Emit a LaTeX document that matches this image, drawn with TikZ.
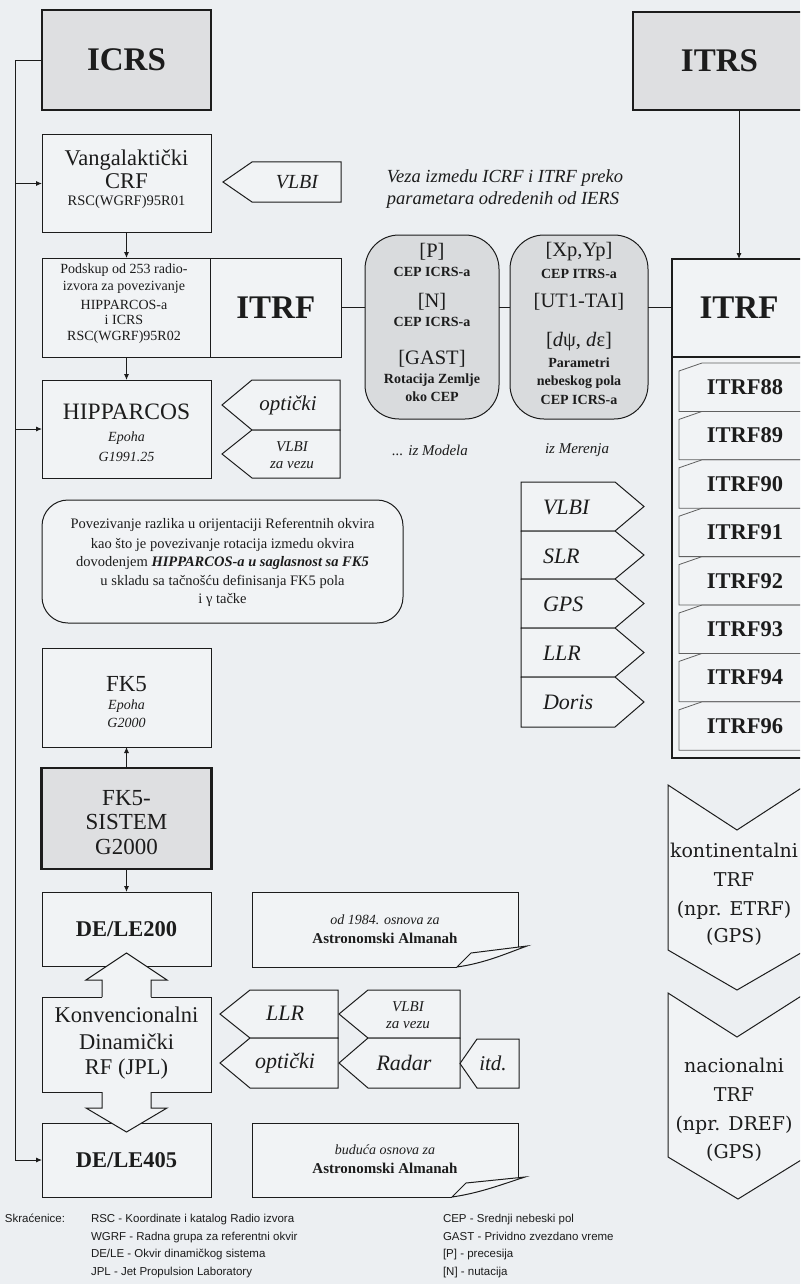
\documentclass[tikz,border=0pt]{standalone}
\usepackage{fontspec}
\setmainfont{Liberation Serif}
\newfontfamily\chevfont{DejaVu Serif}
\newfontfamily\abbrfont{Liberation Sans}
\usetikzlibrary{arrows.meta,calc}
\definecolor{bgc}{RGB}{236,239,242}
\definecolor{boxfill}{RGB}{241,243,245}
\definecolor{grayfill}{RGB}{222,223,225}
\definecolor{roundfill}{RGB}{217,219,221}
\definecolor{ink}{RGB}{28,28,28}
\newcommand{\fsz}[2]{\fontsize{#1}{#2}\selectfont}
\newcommand{\lpent}[5]{\draw[pentstyle] (#2,#3) -- (#1+#5,#3) -- (#1,{(#3+#4)/2}) -- (#1+#5,#4) -- (#2,#4) -- cycle;}
\newcommand{\rpent}[5]{\draw[pentstyle] (#1,#3) -- (#2-#5,#3) -- (#2,{(#3+#4)/2}) -- (#2-#5,#4) -- (#1,#4) -- cycle;}
\begin{document}
\begin{tikzpicture}[x=1pt,y=-1pt,
 every node/.style={text=ink,inner sep=0pt,outer sep=0pt,align=center},
 box/.style={draw=ink,line width=1pt,fill=boxfill},
 heavy/.style={draw=ink,line width=2.2pt,fill=grayfill},
 thinline/.style={draw=ink,line width=0.9pt},
 arr/.style={draw=ink,line width=0.9pt,-{Latex[length=6pt,width=5pt]}},
 link/.style={draw=ink,line width=1.8pt},
 pentstyle/.style={draw=ink,line width=1pt,fill=boxfill},
 roundbox/.style={draw=ink,line width=1pt,fill=roundfill,rounded corners=34pt},
 itemline/.style={draw=ink!70,line width=0.8pt},
 chev/.style={draw=ink,line width=1pt,fill=boxfill},
 docstyle/.style={draw=ink,line width=1pt},
 big/.style={font=\fsz{33}{36}\bfseries},
 mid/.style={font=\fsz{22.5}{26}},
 midb/.style={font=\fsz{22.5}{26}\bfseries},
 lab/.style={font=\fsz{21}{24}\itshape},
 smi/.style={font=\fsz{14}{16}\itshape},
 sm/.style={font=\fsz{14}{16}},
 smb/.style={font=\fsz{14}{16}\bfseries},
 br/.style={font=\fsz{20.5}{24}},
 chevt/.style={font=\fsz{19}{22}\chevfont},
 abbr/.style={font=\fsz{11.5}{13}\abbrfont,anchor=base west},
]
\useasboundingbox (0,0) rectangle (800,1284);
\fill[bgc] (0,0) rectangle (800,1284);
\clip (0,0) rectangle (800,1284);

% ---------------- left column boxes
\node[heavy,big,minimum width=169,minimum height=100] (icrs) at (126.5,60) {ICRS};
\node[box,minimum width=169,minimum height=97] (vang) at (126.5,183.5) {};
\node[mid] (vang1) at (126.5,160) {Vangalaktički};
\node[mid] (vang2) at (126.5,181.5) {CRF};
\node[font=\fsz{14.5}{16}] (vang3) at (126.5,202) {RSC(WGRF)95R01};

\node[box,minimum width=168,minimum height=99] (podskup) at (126.5,307.5) {};
\node[box,big,minimum width=130.5,minimum height=99] (itrf) at (275.75,307.5) {ITRF};
\node[sm] (pod1) at (124,270) {Podskup od 253 radio-};
\node[sm] (pod2) at (124,287) {izvora za povezivanje};
\node[sm] (pod3) at (124,305) {HIPPARCOS-a};
\node[sm] (pod4) at (124,320) {i ICRS};
\node[sm] (pod5) at (124,337) {RSC(WGRF)95R02};

\node[box,minimum width=169,minimum height=98] (hipp) at (126.5,429) {};
\node[font=\fsz{23.5}{26}] (hipp1) at (126.5,412) {HIPPARCOS};
\node[smi] (hipp2) at (126.5,438) {Epoha};
\node[smi] (hipp3) at (126.5,457) {G1991.25};

\node[box,rounded corners=26pt,minimum width=361,minimum height=123] (povez) at (222.5,561.5) {};
\node[font=\fsz{14.5}{16}] (pv1) at (222.5,525) {Povezivanje razlika u orijentaciji Referentnih okvira};
\node[font=\fsz{14.5}{16}] (pv2) at (222.5,545) {kao što je povezivanje rotacija izmedu okvira};
\node[font=\fsz{14.5}{16}] (pv3) at (222.5,563) {dovodenjem \textbf{\textit{HIPPARCOS-a u saglasnost sa FK5}}};
\node[font=\fsz{14.5}{16}] (pv4) at (222.5,582) {u skladu sa tačnošću definisanja FK5 pola};
\node[font=\fsz{14.5}{16}] (pv5) at (222.5,600) {i γ tačke};

\node[box,minimum width=169,minimum height=99] (fk5) at (126.5,697.5) {};
\node[font=\fsz{23}{26}] (fk51) at (126.5,684) {FK5};
\node[smi] (fk52) at (126.5,706) {Epoha};
\node[smi] (fk53) at (126.5,723) {G2000};

\node[heavy,minimum width=170,minimum height=101] (fk5sis) at (126.5,818.5) {};
\node[font=\fsz{23}{26}] (fs1) at (126.5,798) {FK5-};
\node[font=\fsz{23}{26}] (fs2) at (126.5,822) {SISTEM};
\node[font=\fsz{23}{26}] (fs3) at (126.5,847) {G2000};

\node[box,midb,minimum width=169,minimum height=74] (dele200) at (126.5,929) {DE/LE200};
\node[box,minimum width=169,minimum height=95] (konv) at (126.5,1044.5) {};
\node[mid] (kv1) at (126.5,1015) {Konvencionalni};
\node[mid] (kv2) at (126.5,1042) {Dinamički};
\node[mid] (kv3) at (126.5,1069) {RF (JPL)};
\node[box,midb,minimum width=169,minimum height=74] (dele405) at (126.5,1160) {DE/LE405};

% left feed line
\coordinate (Ltop) at (15,60);
\draw[thinline] (icrs.west) -- (Ltop) -- (Ltop |- dele405.west);
\draw[arr] (Ltop |- dele405.west) -- (dele405.west);
\draw[arr] (Ltop |- vang.west) -- (vang.west);
\draw[arr] (Ltop |- hipp.west) -- (hipp.west);

% vertical arrows
\draw[arr] (vang.south) -- (podskup.north);
\draw[arr] (podskup.south) -- (hipp.north);
\draw[arr] (fk5sis.north) -- (fk5.south);
\draw[arr] (fk5sis.south) -- (dele200.north);

% block double arrow
\begin{scope}[shift={(konv.north)}]
 \fill[boxfill] (-24.5,1.2) -- (-24.5,-17) -- (-40.5,-17) -- (0,-44) -- (40.5,-17) -- (24.5,-17) -- (24.5,1.2) -- cycle;
 \draw[docstyle] (-24.5,0) -- (-24.5,-17) -- (-40.5,-17) -- (0,-44) -- (40.5,-17) -- (24.5,-17) -- (24.5,0);
\end{scope}
\begin{scope}[shift={(konv.south)}]
 \fill[boxfill] (-24.5,-1.2) -- (-24.5,16) -- (-40.5,16) -- (0,40) -- (40.5,16) -- (24.5,16) -- (24.5,-1.2) -- cycle;
 \draw[docstyle] (-24.5,0) -- (-24.5,16) -- (-40.5,16) -- (0,40) -- (40.5,16) -- (24.5,16) -- (24.5,0);
\end{scope}

% left pentagons
\lpent{223}{341}{162}{202}{29}
\node[font=\fsz{20}{22}\itshape] (pvlbi) at (297,182) {VLBI};
\lpent{222}{340}{380}{430}{30}
\lpent{222}{340}{430}{478}{30}
\node[lab] (popt) at (288,405) {optički};
\node[font=\fsz{15}{17}\itshape] (pvz1) at (292,447) {VLBI};
\node[font=\fsz{15}{17}\itshape] (pvz2) at (292,465) {za vezu};

\lpent{220}{338}{990}{1038}{30}
\lpent{220}{338}{1038}{1088}{30}
\lpent{339}{460}{990}{1038}{29}
\lpent{339}{460}{1038}{1088}{29}
\lpent{460}{519}{1039}{1088}{17}
\node[font=\fsz{22}{24}\itshape] (qllr) at (285,1013) {LLR};
\node[font=\fsz{22}{24}\itshape] (qopt) at (285,1063) {optički};
\node[font=\fsz{15}{17}\itshape] (qvz1) at (408,1007) {VLBI};
\node[font=\fsz{15}{17}\itshape] (qvz2) at (408,1025) {za vezu};
\node[font=\fsz{22}{24}\itshape] (qrad) at (404,1063) {Radar};
\node[font=\fsz{21}{24}\itshape] (qitd) at (493,1063) {itd.};

% notes with curled corner
\fill[boxfill] (252,892) -- (518,892) -- (518,949) -- (457,967) -- (252,967) -- cycle;
\draw[docstyle] (457,967) -- (252,967) -- (252,892) -- (518,892) -- (518,949);
\draw[docstyle,fill=boxfill] (457,967) .. controls (485,963) and (505,954) .. (527,946) -- (471,953) -- cycle;
\node[draw=none,minimum width=266,minimum height=75] (doc1) at (385,929.5) {};
\node[font=\fsz{14}{16}\itshape] (d1a) at (385,920) {od 1984. osnova za};
\node[font=\fsz{15}{17}\bfseries] (d1b) at (385,938) {Astronomski Almanah};

\fill[boxfill] (252,1123) -- (518,1123) -- (518,1179) -- (452,1197) -- (252,1197) -- cycle;
\draw[docstyle] (452,1197) -- (252,1197) -- (252,1123) -- (518,1123) -- (518,1179);
\draw[docstyle,fill=boxfill] (452,1197) .. controls (480,1193) and (503,1184) .. (525,1177) -- (466,1183) -- cycle;
\node[draw=none,minimum width=266,minimum height=74] (doc2) at (385,1160) {};
\node[font=\fsz{14}{16}\itshape] (d2a) at (385,1150) {buduća osnova za};
\node[font=\fsz{15}{17}\bfseries] (d2b) at (385,1168) {Astronomski Almanah};

% ---------------- middle: title and rounded parameter nodes
\node[font=\fsz{18.5}{22}\itshape] (ttl1) at (505,178) {Veza izmedu ICRF i ITRF preko};
\node[font=\fsz{18.5}{22}\itshape] (ttl2) at (503,200) {parametara odredenih od IERS};

\node[roundbox,minimum width=134,minimum height=184] (r1) at (432,327) {};
\node[roundbox,minimum width=138,minimum height=184] (r2) at (579,327) {};
\node[br] (r1a) at (432,252) {[P]};
\node[smb] (r1b) at (432,272) {CEP ICRS-a};
\node[br] (r1c) at (432,302) {[N]};
\node[smb] (r1d) at (432,322) {CEP ICRS-a};
\node[br] (r1e) at (432,359) {[GAST]};
\node[smb] (r1f) at (432,380) {Rotacija Zemlje};
\node[smb] (r1g) at (432,397) {oko CEP};
\node[br] (r2a) at (579,252) {[Xp,Yp]};
\node[smb] (r2b) at (579,274) {CEP ITRS-a};
\node[br] (r2c) at (579,302) {[UT1-TAI]};
\node[br] (r2d) at (579,342) {[\textit{d}ψ, \textit{d}ε]};
\node[smb] (r2e) at (579,363) {Parametri};
\node[smb] (r2f) at (579,382) {nebeskog pola};
\node[smb] (r2g) at (579,400) {CEP ICRS-a};
\node[font=\fsz{15}{17}\itshape] (mod) at (430,450) {... iz Modela};
\node[font=\fsz{15}{17}\itshape] (mer) at (577,450) {iz Merenja};

% ---------------- right column
\node[heavy,big,minimum width=173,minimum height=98] (itrs) at (719.5,61) {ITRS};
\node[draw=ink,line width=1.5pt,fill=boxfill,big,minimum width=134,minimum height=98] (itrfR) at (739,308) {ITRF};
\node[draw=ink,line width=1.5pt,fill=boxfill,minimum width=134,minimum height=401] (cont) at (739,557.5) {};
\draw[arr] (itrs.south -| itrfR.north) -- (itrfR.north);

\draw[link] (itrf.east) -- (itrf.east -| r1.west);
\draw[link] (r1.east |- itrf.east) -- (r2.west |- itrf.east);
\draw[link] (r2.east |- itrf.east) -- (itrfR.west |- itrf.east);

\foreach \i/\lbl in {0/ITRF88,1/ITRF89,2/ITRF90,3/ITRF91,4/ITRF92,5/ITRF93,6/ITRF94,7/ITRF96}{
 \pgfmathsetmacro\tt{363+48.4*\i}
 \pgfmathsetmacro\bb{363+48.4*(\i+1)}
 \draw[itemline] (812,\tt) -- (702,\tt) -- (679,\tt+8) -- (679,\bb) -- (812,\bb);
 \node[midb] (it\i) at (745,{(\tt+\bb)/2}) {\lbl};
}

% measurement techniques
\rpent{521}{644}{482}{531}{29}
\rpent{521}{644}{531}{579}{29}
\rpent{521}{644}{579}{628}{29}
\rpent{521}{644}{628}{677}{29}
\rpent{521}{644}{677}{727}{29}
\node[font=\fsz{22}{24}\itshape,anchor=west] (tv) at (543,507) {VLBI};
\node[font=\fsz{22}{24}\itshape,anchor=west] (ts) at (543,556) {SLR};
\node[font=\fsz{22}{24}\itshape,anchor=west] (tg) at (543,604) {GPS};
\node[font=\fsz{22}{24}\itshape,anchor=west] (tl) at (543,653) {LLR};
\node[font=\fsz{22}{24}\itshape,anchor=west] (td) at (543,702) {Doris};

% chevrons
\draw[chev] (668,785) -- (737,830) -- (806,785) -- (806,950) -- (737,990) -- (668,950) -- cycle;
\node[chevt] (c1a) at (734,850) {kontinentalni};
\node[chevt] (c1b) at (734,880) {TRF};
\node[chevt] (c1c) at (734,910) {(npr. ETRF)};
\node[chevt] (c1d) at (734,937) {(GPS)};
\draw[chev] (668,993) -- (737,1037) -- (806,993) -- (806,1157) -- (738,1199) -- (668,1157) -- cycle;
\node[chevt] (c2a) at (734,1065) {nacionalni};
\node[chevt] (c2b) at (734,1095) {TRF};
\node[chevt] (c2c) at (734,1125) {(npr. DREF)};
\node[chevt] (c2d) at (734,1153) {(GPS)};

% abbreviations
\node[abbr] (ab0) at (5,1222) {Skraćenice:};
\node[abbr] (ab1) at (91,1222) {RSC - Koordinate i katalog Radio izvora};
\node[abbr] (ab2) at (91,1240) {WGRF - Radna grupa za referentni okvir};
\node[abbr] (ab3) at (91,1257) {DE/LE - Okvir dinamičkog sistema};
\node[abbr] (ab4) at (91,1275) {JPL - Jet Propulsion Laboratory};
\node[abbr] (ab5) at (443,1222) {CEP - Srednji nebeski pol};
\node[abbr] (ab6) at (443,1240) {GAST - Prividno zvezdano vreme};
\node[abbr] (ab7) at (443,1257) {[P] - precesija};
\node[abbr] (ab8) at (443,1275) {[N] - nutacija};
\end{tikzpicture}
\end{document}
